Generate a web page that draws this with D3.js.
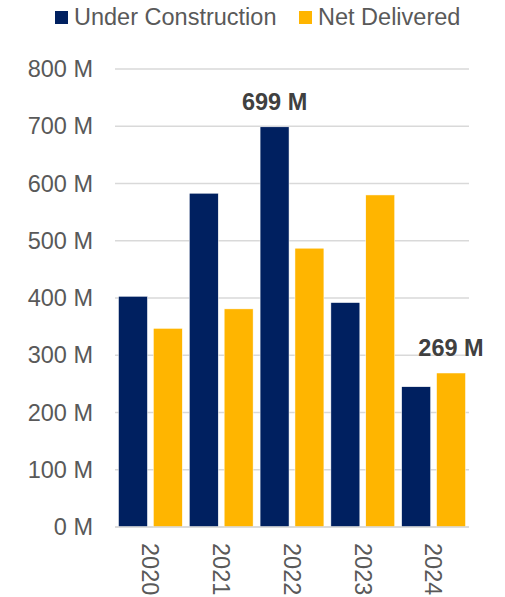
<!DOCTYPE html>
<html>
<head>
<meta charset="utf-8">
<script src="https://cdn.jsdelivr.net/npm/d3@7"></script>
<style>
    body { margin: 0; background: #fff; }
    text { font-family: "Liberation Sans", Arial, sans-serif; }
</style>
</head>
<body>
<div id="chart"></div>
<script>
var years = ['2020', '2021', '2022', '2023', '2024'];
var seriesNames = ['Under Construction', 'Net Delivered'];
var underConstruction = [403, 583, 699, 392, 245];
var netDelivered = [347, 381, 487, 580, 269];
var yTicks = [0, 100, 200, 300, 400, 500, 600, 700, 800];
var colors = ['#002060', '#FFB500'];
// labelled bars: [series index, year index]
var callouts = [[0, 2], [1, 4]];

var width = 505, height = 597;
var plotLeft = 115, plotRight = 469, plotTop = 69, plotBottom = 527;

var svg = d3.select('#chart')
    .append('svg')
    .attr('width', width)
    .attr('height', height);

var x = d3.scaleBand().domain(years).range([plotLeft, plotRight]).padding(0);
var xSub = d3.scaleBand().domain([0, 1]).range([0, x.bandwidth()])
    .paddingInner(0.17).paddingOuter(0.1);
var y = d3.scaleLinear().domain([0, 800]).range([plotBottom, plotTop]);

// gridlines
svg.append('g').selectAll('line').data(yTicks)
    .join('line')
    .attr('x1', plotLeft).attr('x2', plotRight)
    .attr('y1', d => y(d)).attr('y2', d => y(d))
    .attr('stroke', '#d9d9d9')
    .attr('stroke-width', 1.5);

// y axis labels
var yAxis = svg.append('g')
    .attr('transform', `translate(${plotLeft},0)`)
    .call(d3.axisLeft(y).tickValues(yTicks).tickSize(0).tickPadding(22)
        .tickFormat(d => d + ' M'));
yAxis.select('.domain').remove();
yAxis.selectAll('text')
    .attr('fill', '#595959')
    .style('font-size', '23.5px');

// bars
var data = [underConstruction, netDelivered];
data.forEach(function (vals, s) {
    svg.append('g').selectAll('rect').data(vals)
        .join('rect')
        .attr('x', (d, i) => x(years[i]) + xSub(s))
        .attr('y', d => y(d))
        .attr('width', xSub.bandwidth())
        .attr('height', d => y(0) - y(d))
        .attr('fill', colors[s])
        .attr('stroke', '#ffffff')
        .attr('stroke-width', 0.5);
});

// baseline
svg.append('line')
    .attr('x1', plotLeft).attr('x2', plotRight)
    .attr('y1', y(0)).attr('y2', y(0))
    .attr('stroke', '#d9d9d9')
    .attr('stroke-width', 1.5);

// x labels, rotated
svg.append('g').selectAll('text').data(years)
    .join('text')
    .attr('transform', d => `translate(${x(d) + x.bandwidth() / 2},${plotBottom + 16}) rotate(90)`)
    .attr('dy', '0.35em')
    .attr('text-anchor', 'start')
    .attr('fill', '#595959')
    .style('font-size', '23.5px')
    .text(d => d);

// callout labels
svg.append('g').selectAll('text').data(callouts)
    .join('text')
    .attr('x', d => x(years[d[1]]) + xSub(d[0]) + xSub.bandwidth() / 2)
    .attr('y', d => y(data[d[0]][d[1]]) - 17)
    .attr('text-anchor', 'middle')
    .attr('fill', '#404040')
    .style('font-size', '23.5px')
    .style('font-weight', 'bold')
    .text(d => data[d[0]][d[1]] + ' M');

// legend
var legendX = [55, 299];
var legend = svg.append('g').selectAll('g').data(seriesNames)
    .join('g')
    .attr('transform', (d, i) => `translate(${legendX[i]},11)`);
legend.append('rect')
    .attr('width', 13).attr('height', 13)
    .attr('fill', (d, i) => colors[i]);
legend.append('text')
    .attr('x', 19).attr('y', 14)
    .attr('fill', '#595959')
    .style('font-size', '23.5px')
    .text(d => d);
</script>
</body>
</html>
